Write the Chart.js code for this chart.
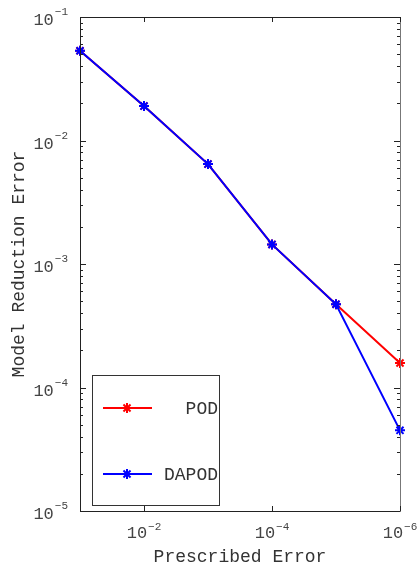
<!DOCTYPE html>
<html>
<head>
<meta charset="utf-8">
<script src="https://cdn.jsdelivr.net/npm/chart.js@4/dist/chart.umd.min.js"></script>
<style>
  html, body { margin: 0; padding: 0; background: #fff; }
  #wrap { width: 420px; height: 566px; position: relative; }
</style>
</head>
<body>
<div id="wrap"><canvas id="c" width="420" height="566"></canvas></div>
<script>
// ---- data ----
const prescribedError = [1e-1, 1e-2, 1e-3, 1e-4, 1e-5, 1e-6];
const podError   = [0.0533, 0.0190, 0.00644, 0.00144, 0.000472, 0.000158];
const dapodError = [0.0533, 0.0190, 0.00644, 0.00144, 0.000472, 0.0000450];
const seriesNames = ['POD', 'DAPOD'];
const xTickValues = [1e-2, 1e-4, 1e-6];
const xTickExponents = ['-2', '-4', '-6'];
const yTickValues = [1e-1, 1e-2, 1e-3, 1e-4, 1e-5];
const yTickExponents = ['-1', '-2', '-3', '-4', '-5'];
const xTitle = 'Prescribed Error';
const yTitle = 'Model Reduction Error';

const MONO = '"Liberation Mono", "DejaVu Sans Mono", monospace';
const RED = '#ff0000', BLUE = '#0000ff';

function pts(ys) { return prescribedError.map((x, i) => ({x: x, y: ys[i]})); }

const decor = {
  id: 'decor',
  afterDraw(chart) {
    const ctx = chart.ctx;
    const a = chart.chartArea;
    const xs = chart.scales.x, ys = chart.scales.y;
    ctx.save();
    // box
    ctx.lineWidth = 1;
    ctx.strokeStyle = '#222';
    ctx.beginPath();
    ctx.moveTo(a.right, a.top + 0.5); ctx.lineTo(a.left + 0.5, a.top + 0.5);
    ctx.lineTo(a.left + 0.5, a.bottom + 0.5); ctx.lineTo(a.right, a.bottom + 0.5);
    ctx.stroke();
    ctx.strokeStyle = '#777';
    ctx.beginPath();
    ctx.moveTo(a.right + 0.5, a.top); ctx.lineTo(a.right + 0.5, a.bottom + 1);
    ctx.stroke();

    // y ticks (major + minor), inward on both sides
    ctx.strokeStyle = '#222';
    for (let e = -5; e <= -1; e++) {
      for (let m = 1; m <= 9; m++) {
        const v = m * Math.pow(10, e);
        if (v > 0.1 * 1.0001) continue;
        const py = Math.round(ys.getPixelForValue(v)) + 0.5;
        const len = (m === 1) ? 6 : 3;
        ctx.beginPath();
        ctx.moveTo(a.left, py); ctx.lineTo(a.left + len, py);
        ctx.moveTo(a.right, py); ctx.lineTo(a.right - len, py);
        ctx.stroke();
      }
    }
    // x ticks inward top & bottom
    xTickValues.forEach(v => {
      const px = Math.round(xs.getPixelForValue(v)) + 0.5;
      ctx.beginPath();
      ctx.moveTo(px, a.bottom); ctx.lineTo(px, a.bottom - 5);
      ctx.moveTo(px, a.top); ctx.lineTo(px, a.top + 5);
      ctx.stroke();
    });

    // tick labels
    ctx.fillStyle = '#444';
    ctx.textBaseline = 'alphabetic';
    const baseFont = '17px ' + MONO, expFont = '11px ' + MONO;
    yTickValues.forEach((v, i) => {
      const py = ys.getPixelForValue(v);
      ctx.font = expFont;
      const expTxt = '\u2212' + yTickExponents[i].replace('-', '');
      const ew = ctx.measureText(expTxt).width;
      const right = a.left - 12;
      ctx.textAlign = 'left';
      ctx.fillText(expTxt, right - ew, py - 2);
      ctx.font = baseFont;
      ctx.textAlign = 'right';
      ctx.fillText('10', right - ew - 1, py + 8);
    });
    xTickValues.forEach((v, i) => {
      const px = xs.getPixelForValue(v);
      ctx.font = baseFont;
      const bw = ctx.measureText('10').width;
      ctx.font = expFont;
      const expTxt = '\u2212' + xTickExponents[i].replace('-', '');
      const ew = ctx.measureText(expTxt).width;
      const left = px - (bw + 1 + ew) / 2;
      ctx.textAlign = 'left';
      ctx.font = baseFont;
      ctx.fillText('10', left, a.bottom + 27);
      ctx.font = expFont;
      ctx.fillText(expTxt, left + bw + 1, a.bottom + 19);
    });

    // axis titles
    ctx.fillStyle = '#333';
    ctx.font = '18px ' + MONO;
    ctx.textAlign = 'center';
    ctx.fillText(xTitle, (a.left + a.right) / 2, 562);
    ctx.save();
    ctx.translate(24, (a.top + a.bottom) / 2);
    ctx.rotate(-Math.PI / 2);
    ctx.fillText(yTitle, 0, 0);
    ctx.restore();

    // legend box
    ctx.strokeStyle = '#333';
    ctx.lineWidth = 1;
    ctx.strokeRect(92.5, 375.5, 127, 130);
    const entries = [
      {name: seriesNames[0], color: RED, y: 408},
      {name: seriesNames[1], color: BLUE, y: 474}
    ];
    entries.forEach(en => {
      ctx.strokeStyle = en.color;
      ctx.lineWidth = 2;
      ctx.beginPath();
      ctx.moveTo(103, en.y); ctx.lineTo(152, en.y);
      ctx.stroke();
      Chart.helpers.drawPoint(ctx, {pointStyle: 'star', radius: 5, borderWidth: 2}, 127, en.y);
      ctx.fillStyle = '#333';
      ctx.font = '18px ' + MONO;
      ctx.textAlign = 'right';
      ctx.fillText(en.name, 218, en.y + 6);
    });
    ctx.restore();
  }
};

new Chart(document.getElementById('c'), {
  type: 'line',
  data: {
    datasets: [
      {
        label: seriesNames[1], data: pts(dapodError), order: 0,
        borderColor: BLUE, backgroundColor: BLUE, borderWidth: 2,
        pointStyle: 'star', pointRadius: 5, pointBorderWidth: 2,
        pointBorderColor: BLUE, clip: false, tension: 0
      },
      {
        label: seriesNames[0], data: pts(podError), order: 1,
        borderColor: RED, backgroundColor: RED, borderWidth: 2,
        pointStyle: 'star', pointRadius: 5, pointBorderWidth: 2,
        pointBorderColor: RED, clip: false, tension: 0
      }
    ]
  },
  options: {
    responsive: false,
    devicePixelRatio: 1,
    animation: false,
    layout: { padding: { left: 80, right: 20, top: 17, bottom: 55 } },
    plugins: { legend: { display: false }, tooltip: { enabled: false } },
    scales: {
      x: {
        type: 'logarithmic', reverse: true, min: 1e-6, max: 1e-1,
        display: false
      },
      y: {
        type: 'logarithmic', min: 1e-5, max: 1e-1,
        display: false
      }
    }
  },
  plugins: [decor]
});
</script>
</body>
</html>
